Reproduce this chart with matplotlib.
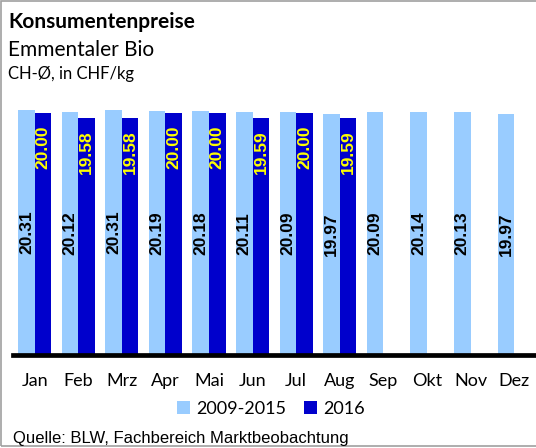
import matplotlib.pyplot as plt
import matplotlib.patches as mpatches
import numpy as np

# monthly consumer prices, organic Emmentaler
months = ["Jan", "Feb", "Mrz", "Apr", "Mai", "Jun", "Jul", "Aug", "Sep", "Okt", "Nov", "Dez"]
avg_2009_2015 = [20.31, 20.12, 20.31, 20.19, 20.18, 20.11, 20.09, 19.97, 20.09, 20.14, 20.13, 19.97]
prices_2016 = [20.00, 19.58, 19.58, 20.00, 20.00, 19.59, 20.00, 19.59]

light_blue = "#99CCFF"
dark_blue = "#0000CC"

fig = plt.figure(figsize=(5.36, 4.48), dpi=100)
ax = fig.add_axes([0.024, 0.2076, 0.976, 0.607])

x = np.arange(len(months))
w = 0.38

bars_old = ax.bar(x - w / 2, avg_2009_2015, width=w, color=light_blue, label="2009-2015")
bars_new = ax.bar(x[:len(prices_2016)] + w / 2, prices_2016, width=w, color=dark_blue, label="2016")

for b, v in zip(bars_old, avg_2009_2015):
    ax.text(b.get_x() + b.get_width() / 2, v / 2, f"{v:.2f}", rotation=90,
            ha="center", va="center", fontsize=12.5, fontweight="bold",
            family="Liberation Sans", color="black")

for b, v in zip(bars_new, prices_2016):
    ax.annotate(f"{v:.2f}", (b.get_x() + b.get_width() / 2, v), xytext=(0, -8.5),
                textcoords="offset points", rotation=90, ha="center", va="top",
                fontsize=12.5, fontweight="bold", family="Liberation Sans", color="#FFFF00")

ax.set_xlim(-0.5, len(months) - 0.5)
ax.set_ylim(0, 22.5)
ax.axhline(0, color="black", linewidth=3.4, clip_on=False)
for s in ax.spines.values():
    s.set_visible(False)
ax.set_yticks([])
ax.set_xticks(x)
ax.set_xticklabels(months, family="Lato", fontsize=13)
ax.tick_params(axis="x", length=0, pad=13)

leg = fig.legend(handles=[bars_old, bars_new], loc="center", bbox_to_anchor=(0.505, 0.087),
                 ncol=2, frameon=False, prop={"family": "Lato", "size": 13},
                 handlelength=0.75, handleheight=0.75, handletextpad=0.3, columnspacing=1.0)

fig.text(0.015, 0.951, "Konsumentenpreise", family="Lato", fontweight="bold", fontsize=15, va="center")
fig.text(0.015, 0.888, "Emmentaler Bio", family="Lato", fontsize=15, va="center")
fig.text(0.015, 0.835, "CH-Ø, in CHF/kg", family="Lato", fontsize=12, va="center")
fig.text(0.025, 0.022, "Quelle: BLW, Fachbereich Marktbeobachtung", family="Liberation Sans",
         fontsize=12, va="center")

# outer frame
fig.patches.append(mpatches.Rectangle((0.002, 0.004), 1.2, 0.993, transform=fig.transFigure,
                                      fill=False, edgecolor="#A0A0A0", linewidth=1.2))

fig.savefig("out.png", dpi=100)
